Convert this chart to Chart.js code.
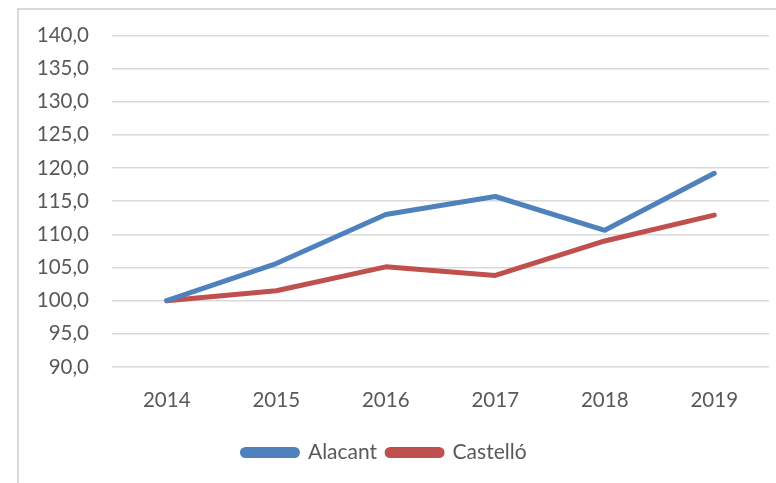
<!DOCTYPE html>
<html>
<head>
<meta charset="utf-8">
<script src="https://cdn.jsdelivr.net/npm/chart.js"></script>
<style>
  html, body { margin: 0; padding: 0; background: #fff; overflow: hidden; }
  #wrap { position: relative; width: 776px; height: 483px; }
  #frame { position: absolute; left: 17px; top: 8px; width: 800px; height: 500px; border: 2px solid #d9d9d9; }
  canvas { position: absolute; left: 0; top: 0; }
</style>
</head>
<body>
<div id="wrap">
  <div id="frame"></div>
  <canvas id="lineChart" width="776" height="483"></canvas>
</div>
<script>
// years on the x axis
var years = ['2014', '2015', '2016', '2017', '2018', '2019'];
// index values, 2014 = 100
var alacant = [100.0, 105.6, 113.0, 115.7, 110.6, 119.2];
var castello = [100.0, 101.5, 105.1, 103.8, 109.0, 112.9];
var seriesNames = ['Alacant', 'Castelló'];

var textColor = '#595959';
var fontFamily = 'Lato, "Open Sans", sans-serif';

var ctx = document.getElementById('lineChart').getContext('2d');
var lineChart = new Chart(ctx, {
    type: 'line',
    data: {
        labels: years,
        datasets: [{
            label: seriesNames[0],
            data: alacant,
            borderColor: '#4f81bd',
            backgroundColor: '#4f81bd',
            borderWidth: 5,
            borderCapStyle: 'round',
            borderJoinStyle: 'round',
            pointRadius: 0,
            tension: 0
        }, {
            label: seriesNames[1],
            data: castello,
            borderColor: '#c0504d',
            backgroundColor: '#c0504d',
            borderWidth: 5,
            borderCapStyle: 'round',
            borderJoinStyle: 'round',
            pointRadius: 0,
            tension: 0
        }]
    },
    options: {
        responsive: false,
        animation: false,
        layout: {
            padding: { left: 0, right: 7, top: 35, bottom: 10 }
        },
        plugins: {
            tooltip: { enabled: false },
            legend: {
                position: 'bottom',
                labels: {
                    color: textColor,
                    font: { family: fontFamily, size: 21 },
                    boxWidth: 55,
                    boxHeight: 6,
                    useBorderRadius: true,
                    borderRadius: 3,
                    padding: 10
                }
            }
        },
        scales: {
            x: {
                offset: true,
                grid: { display: false, drawTicks: false },
                border: { display: false },
                afterFit: function(scale) { scale.height = 65; },
                ticks: {
                    color: textColor,
                    font: { family: fontFamily, size: 20.5 },
                    padding: 21,
                    maxRotation: 0
                }
            },
            y: {
                min: 90,
                max: 140,
                grid: { color: '#d9d9d9', lineWidth: 1.5, drawTicks: false },
                border: { display: false },
                afterFit: function(scale) { scale.width = 112; },
                ticks: {
                    stepSize: 5,
                    color: textColor,
                    font: { family: fontFamily, size: 20.5 },
                    padding: 23,
                    callback: function(value) {
                        return value.toFixed(1).replace('.', ',');
                    }
                }
            }
        }
    }
});
</script>
</body>
</html>
